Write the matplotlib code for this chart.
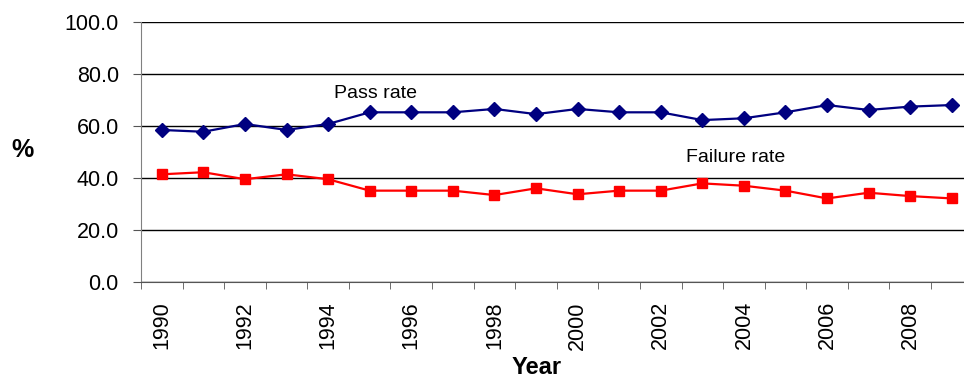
import matplotlib as mpl
mpl.use('Agg')
import matplotlib.pyplot as plt
import numpy as np

plt.rcParams['font.family'] = ['Liberation Sans', 'DejaVu Sans']

years = list(range(1990, 2010))
pass_rate = [58.5, 57.8, 60.8, 58.5, 60.8, 65.3, 65.3, 65.3, 66.6, 64.6,
             66.6, 65.3, 65.3, 62.3, 63.0, 65.3, 68.1, 66.2, 67.5, 68.1]
fail_rate = [41.4, 42.2, 39.5, 41.4, 39.5, 35.1, 35.1, 35.1, 33.4, 36.0,
             33.7, 35.1, 35.1, 37.9, 37.0, 35.1, 32.1, 34.3, 33.0, 32.1]
year_labels = [str(y) if y % 2 == 0 else '' for y in years]

fig = plt.figure(figsize=(9.64, 3.78), dpi=100)
# plot area runs past the right edge of the figure
ax = fig.add_axes([141 / 964, 1 - 281.7 / 378, 831.6 / 964, 259.4 / 378])

x = np.arange(len(years))
ax.plot(x, pass_rate, color='#000080', marker='D', markersize=7.5, lw=1.6, clip_on=False, zorder=3)
ax.plot(x, fail_rate, color='#ff0000', marker='s', markersize=7, lw=1.6, clip_on=False, zorder=3)

ax.set_xlim(-0.5, len(years) - 0.5)
ax.set_ylim(0, 100)
ax.set_yticks(np.arange(0, 101, 20))
ax.set_yticklabels(['%.1f' % v for v in np.arange(0, 101, 20)], fontsize=15.5)
ax.yaxis.grid(True, color='black', lw=1)
ax.set_axisbelow(True)

ax.set_xticks(x)
ax.set_xticklabels(year_labels, rotation=90, fontsize=15.5)
ax.set_xticks(np.arange(-0.5, len(years)), minor=True)
ax.tick_params(axis='x', which='major', length=0, pad=14)
ax.tick_params(axis='x', which='minor', length=5, direction='out', color='#555555')
ax.tick_params(axis='y', length=6, direction='out', color='#555555', pad=10)

for s in ['top', 'right']:
    ax.spines[s].set_visible(False)
ax.spines['left'].set_color('#808080')
ax.spines['bottom'].set_color('#555555')

ax.text(5.13, 72.4, 'Pass rate', fontsize=14, ha='center', va='center')
ax.text(13.8, 47.7, 'Failure rate', fontsize=14, ha='center', va='center')

fig.text(23 / 964, 1 - 150 / 378, '%', fontsize=18, fontweight='bold', ha='center', va='center')
fig.text(537 / 964, 1 - 367 / 378, 'Year', fontsize=17, fontweight='bold', ha='center', va='center')

fig.savefig('out.png', dpi=100)
